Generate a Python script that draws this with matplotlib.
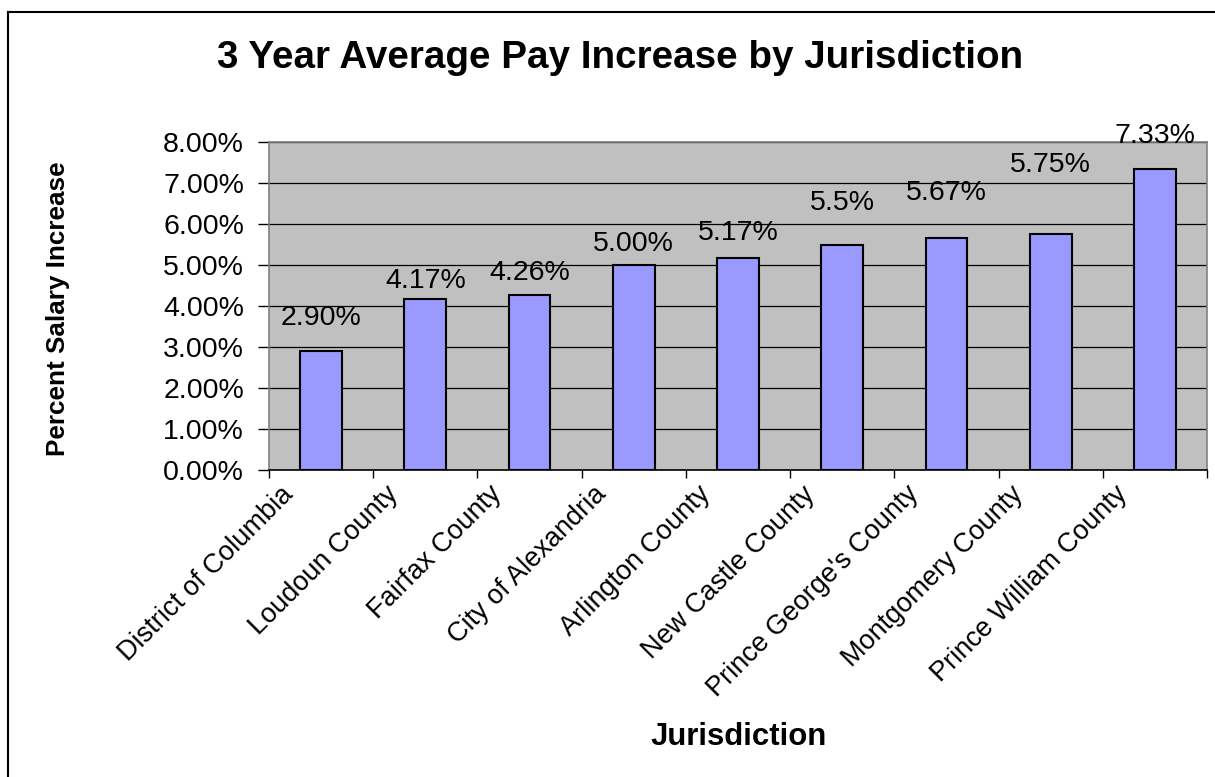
import numpy as np
import matplotlib
matplotlib.use("Agg")
import matplotlib.pyplot as plt
from matplotlib.ticker import FuncFormatter, FixedLocator
from matplotlib.lines import Line2D

# data
jurisdictions = ["District of Columbia", "Loudoun County", "Fairfax County",
                 "City of Alexandria", "Arlington County", "New Castle County",
                 "Prince George's County", "Montgomery County", "Prince William County"]
pay_increase = [2.90, 4.17, 4.26, 5.00, 5.17, 5.50, 5.67, 5.75, 7.33]
value_labels = ["2.90%", "4.17%", "4.26%", "5.00%", "5.17%", "5.5%", "5.67%", "5.75%", "7.33%"]

# label offsets above bar top (pixels), labels were hand-placed in the original
label_offsets = [20, 5, 9, 8, 12, 28, 32, 56, 20]

plt.rcParams['font.family'] = ['Liberation Sans', 'DejaVu Sans']

W, H = 1215, 777
fig = plt.figure(figsize=(W / 100, H / 100), dpi=100)
ax = fig.add_axes([269 / W, 1 - 470 / H, (1207 - 269) / W, (470 - 142) / H])
ax.set_facecolor('#C0C0C0')

x = np.arange(len(jurisdictions))
ax.bar(x, pay_increase, width=0.4, color='#9999FF', edgecolor='black', linewidth=1.5, zorder=3)

for xi, v, txt, off in zip(x, pay_increase, value_labels, label_offsets):
    ax.annotate(txt, (xi, v), xytext=(0, off), textcoords='offset pixels',
                ha='center', va='bottom', fontsize=20.5, zorder=4)

ax.set_xlim(-0.5, len(x) - 0.5)
ax.set_ylim(0, 8)
ax.set_yticks(np.arange(0, 9, 1))
ax.yaxis.set_major_formatter(FuncFormatter(lambda v, pos: f'{v:.2f}%'))
ax.tick_params(axis='y', labelsize=20.5, length=8, width=1, pad=10)

# tick marks between categories, labels offset to the left of each bar
ax.xaxis.set_major_locator(FixedLocator(np.arange(-0.5, len(x), 1)))
ax.xaxis.set_major_formatter(FuncFormatter(lambda v, pos: ''))
ax.set_xticks(x - 0.39, jurisdictions, minor=True)
ax.tick_params(axis='x', which='major', length=6, width=1)
ax.tick_params(axis='x', which='minor', length=0, pad=8, labelsize=19.5)
plt.setp(ax.get_xticklabels(minor=True), rotation=45, ha='right', rotation_mode='anchor')

ax.yaxis.grid(True, color='black', linewidth=0.9)
ax.set_axisbelow(True)

for side in ['left', 'top', 'right']:
    ax.spines[side].set_color('#808080')
    ax.spines[side].set_linewidth(1.2)
ax.spines['bottom'].set_color('black')
ax.spines['bottom'].set_linewidth(1.2)

fig.text(620 / W, 1 - 58 / H, '3 Year Average Pay Increase by Jurisdiction',
         ha='center', va='center', fontsize=27.8, fontweight='bold')
fig.text(58 / W, 1 - 309 / H, 'Percent Salary Increase', rotation=90,
         ha='center', va='center', fontsize=18.8, fontweight='bold')
fig.text(739 / W, 1 - 737 / H, 'Jurisdiction',
         ha='center', va='center', fontsize=22.4, fontweight='bold')

# chart border (only left and top edges visible in the original)
fig.add_artist(Line2D([8 / W, 8 / W], [0, 1 - 12 / H], color='black', lw=1.5, transform=fig.transFigure))
fig.add_artist(Line2D([8 / W, 1], [1 - 12 / H, 1 - 12 / H], color='black', lw=1.5, transform=fig.transFigure))

fig.savefig('out.png', dpi=100)
